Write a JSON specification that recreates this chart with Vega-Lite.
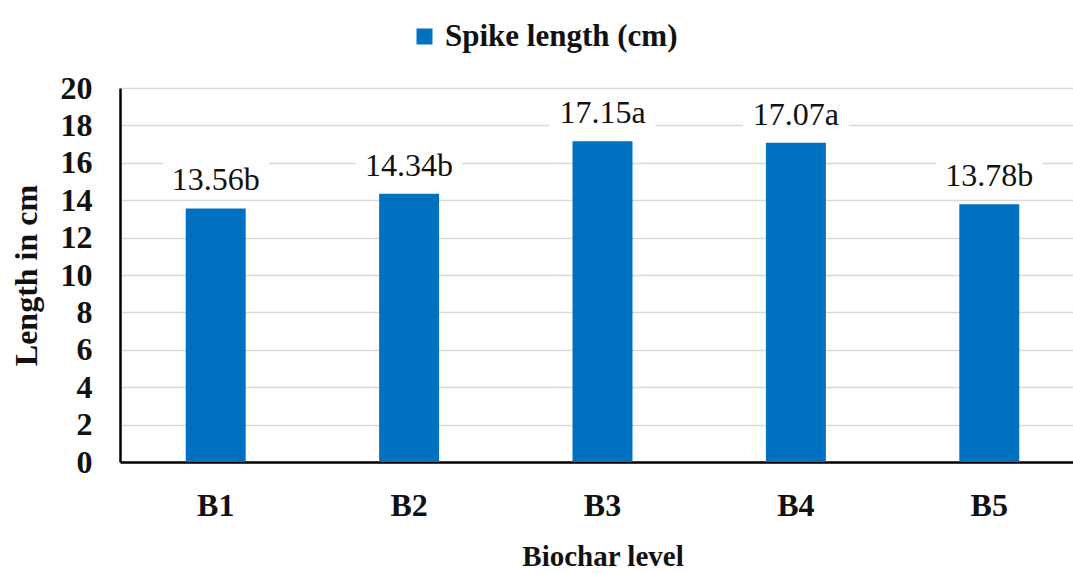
{
  "$schema": "https://vega.github.io/schema/vega-lite/v6.json",
  "autosize": {"type": "none"},
  "padding": {"left": 120, "top": 88, "right": 0, "bottom": 111},
  "width": 953,
  "height": 374,
  "background": "white",
  "config": {
    "view": {"stroke": null},
    "font": "Liberation Serif"
  },
  "data": {
    "values": [
      {"level": "B1", "length": 13.56, "label": "13.56b", "series": "Spike length (cm)"},
      {"level": "B2", "length": 14.34, "label": "14.34b", "series": "Spike length (cm)"},
      {"level": "B3", "length": 17.15, "label": "17.15a", "series": "Spike length (cm)"},
      {"level": "B4", "length": 17.07, "label": "17.07a", "series": "Spike length (cm)"},
      {"level": "B5", "length": 13.78, "label": "13.78b", "series": "Spike length (cm)"}
    ]
  },
  "encoding": {
    "x": {
      "field": "level",
      "type": "nominal",
      "sort": null,
      "scale": {"range": [0, 965], "paddingInner": 0.69, "paddingOuter": 0.34},
      "axis": {
        "title": "Biochar level",
        "labelAngle": 0,
        "labelFont": "Liberation Serif",
        "labelFontSize": 32,
        "labelFontWeight": "bold",
        "labelColor": "#111111",
        "labelPadding": 28,
        "ticks": false,
        "domainColor": "#000000",
        "domainWidth": 2.5,
        "titleFont": "Liberation Serif",
        "titleFontSize": 29,
        "titleFontWeight": "bold",
        "titleColor": "#111111",
        "titlePadding": 21
      }
    },
    "y": {
      "field": "length",
      "type": "quantitative",
      "scale": {"domain": [0, 20], "nice": false},
      "axis": {
        "title": "Length in cm",
        "values": [0, 2, 4, 6, 8, 10, 12, 14, 16, 18, 20],
        "labelFont": "Liberation Serif",
        "labelFontSize": 32,
        "labelFontWeight": "bold",
        "labelColor": "#111111",
        "labelPadding": 28,
        "ticks": false,
        "domainColor": "#000000",
        "domainWidth": 2.5,
        "gridColor": "#d9d9d9",
        "gridWidth": 1.5,
        "titleFont": "Liberation Serif",
        "titleFontSize": 32,
        "titleFontWeight": "bold",
        "titleColor": "#111111",
        "titlePadding": 17
      }
    }
  },
  "layer": [
    {
      "mark": {"type": "bar", "color": "#0070C0"},
      "encoding": {
        "color": {
          "field": "series",
          "type": "nominal",
          "scale": {"range": ["#0070C0"]},
          "legend": {
            "title": null,
            "orient": "none",
            "legendX": 289,
            "legendY": -67,
            "symbolType": "square",
            "symbolSize": 256,
            "symbolStrokeWidth": 0,
            "labelFont": "Liberation Serif",
            "labelFontSize": 31,
            "labelFontWeight": "bold",
            "labelColor": "#111111",
            "labelOffset": 5,
            "labelLimit": 0,
            "padding": 0
          }
        }
      }
    },
    {
      "mark": {"type": "bar", "color": "white", "width": 106, "yOffset": -48, "y2Offset": -12},
      "encoding": {
        "y2": {"field": "length"}
      }
    },
    {
      "mark": {"type": "text", "font": "Liberation Serif", "fontSize": 32, "color": "#111111", "baseline": "alphabetic", "dy": -18},
      "encoding": {
        "text": {"field": "label"}
      }
    }
  ]
}
